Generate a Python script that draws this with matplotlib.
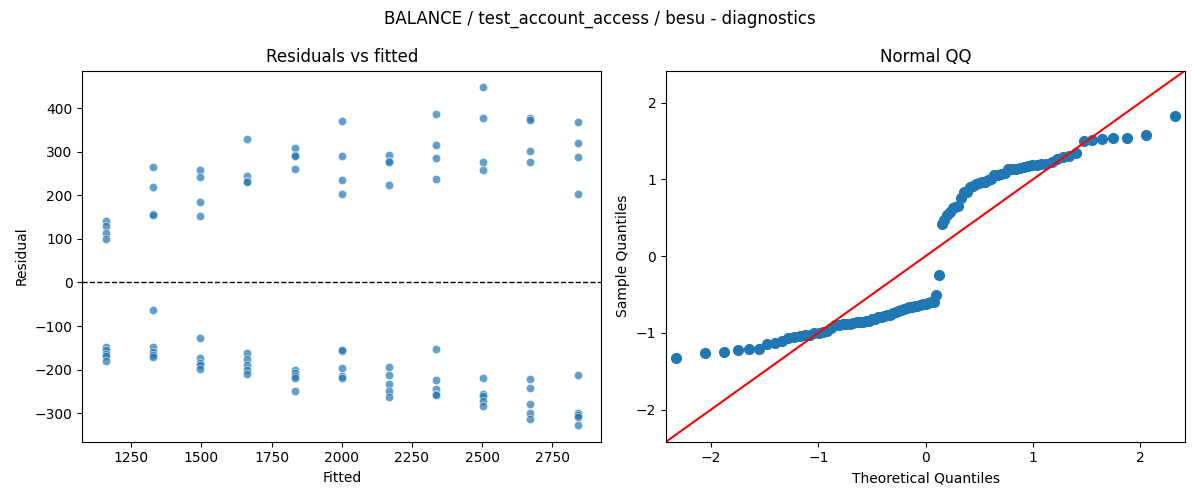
import numpy as np
import matplotlib
matplotlib.use("Agg")
import matplotlib.pyplot as plt
import seaborn as sns
from statistics import NormalDist

fitted_levels = [1160, 1328, 1496, 1664, 1832, 2000, 2168, 2336, 2504, 2672, 2840]

res_1160 = [141, 129, 114, 100, -148, -154, -164, -168, -181]
res_1328 = [265, 219, 158, 156, -63, -148, -160, -166, -171]
res_1496 = [258, 242, 184, 152, -127, -173, -185, -189, -198]
res_1664 = [329, 245, 233, 230, -162, -176, -189, -202, -210]
res_1832 = [309, 294, 291, 260, -202, -208, -214, -219, -249]
res_2000 = [370, 290, 235, 203, -157, -155, -196, -215, -219]
res_2168 = [293, 280, 277, 224, -193, -212, -233, -249, -263]
res_2336 = [388, 315, 285, 237, -152, -224, -244, -256, -258]
res_2504 = [448, 377, 276, 258, -219, -256, -260, -273, -283]
res_2672 = [378, 374, 301, 276, -221, -242, -280, -300, -313]
res_2840 = [368, 320, 288, 203, -212, -300, -304, -308, -327]

groups = [res_1160, res_1328, res_1496, res_1664, res_1832, res_2000,
          res_2168, res_2336, res_2504, res_2672, res_2840]

fitted = np.concatenate([[f] * len(g) for f, g in zip(fitted_levels, groups)])
resid = np.concatenate(groups).astype(float)

# quantis para o QQ (posicoes i/(n+1), residuos padronizados)
n = len(resid)
theo = np.array([NormalDist().inv_cdf(i / (n + 1)) for i in range(1, n + 1)])
sample = np.sort((resid - resid.mean()) / resid.std())

fig, axes = plt.subplots(1, 2, figsize=(12, 5), dpi=100)

ax = axes[0]
sns.scatterplot(x=fitted, y=resid, alpha=0.7, ax=ax)
ax.axhline(0, color="black", linestyle="--", linewidth=1)
ax.set_title("Residuals vs fitted")
ax.set_xlabel("Fitted")
ax.set_ylabel("Residual")

ax = axes[1]
ax.plot(theo, sample, marker="o", linestyle="none", color="C0", markersize=7)
lim = 2.42
ax.set_xlim(-lim, lim)
ax.set_ylim(-lim, lim)
ax.axline((0, 0), slope=1, color="r")
ax.set_title("Normal QQ")
ax.set_xlabel("Theoretical Quantiles")
ax.set_ylabel("Sample Quantiles")

fig.suptitle("BALANCE / test_account_access / besu - diagnostics")
plt.tight_layout()
plt.savefig("out.png")
